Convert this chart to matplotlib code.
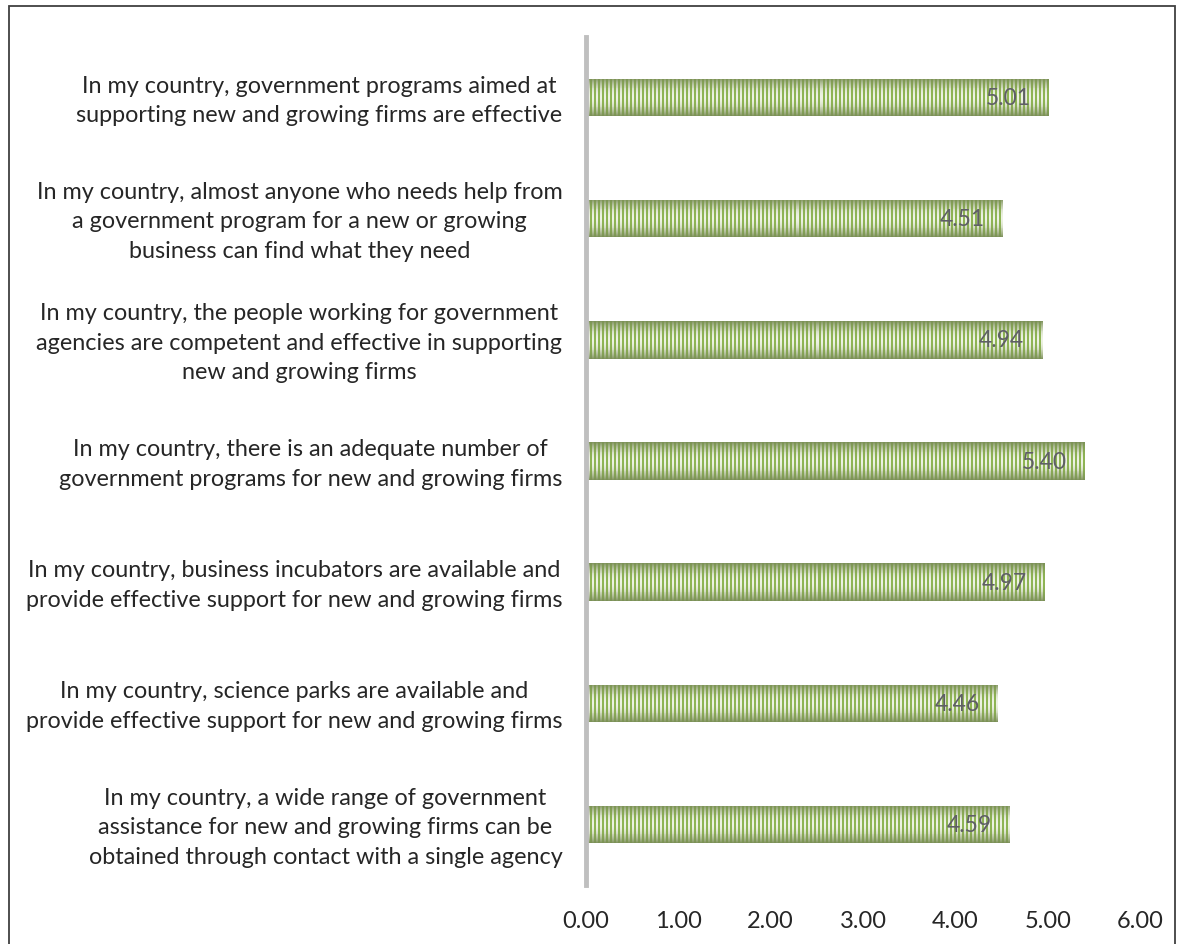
import numpy as np
import matplotlib
matplotlib.use("Agg")
import matplotlib.pyplot as plt
from matplotlib.patches import Rectangle
from matplotlib.transforms import ScaledTranslation

categories = [
    "In my country, government programs aimed at\nsupporting new and growing firms are effective",
    "In my country, almost anyone who needs help from\na government program for a new or growing\nbusiness can find what they need",
    "In my country, the people working for government\nagencies are competent and effective in supporting\nnew and growing firms",
    "In my country, there is an adequate number of\ngovernment programs for new and growing firms",
    "In my country, business incubators are available and\nprovide effective support for new and growing firms",
    "In my country, science parks are available and\nprovide effective support for new and growing firms",
    "In my country, a wide range of government\nassistance for new and growing firms can be\nobtained through contact with a single agency",
]
values = [5.01, 4.51, 4.94, 5.40, 4.97, 4.46, 4.59]
xticks = [0, 1, 2, 3, 4, 5, 6]
xticklabels = ["0.00", "1.00", "2.00", "3.00", "4.00", "5.00", "6.00"]

plt.rcParams['font.family'] = ['Lato', 'DejaVu Sans']

W, H = 1183, 945
fig = plt.figure(figsize=(W / 100, H / 100), dpi=100)
ax = fig.add_axes([586 / W, 1 - 886 / H, (1140 - 586) / W, 848 / H])

ypos = np.arange(len(values))
bars = ax.barh(ypos, values, height=0.31, color="#b5cc85", edgecolor="none", zorder=2)

# striped gradient texture clipped to each bar
green = np.array([0.56, 0.71, 0.33])
light = np.array([0.93, 0.95, 0.89])
dark = np.array([0.48, 0.56, 0.34])
stripe_w = 2.0 / 92.3
for b in bars:
    x0, y0, w, h = b.get_x(), b.get_y(), b.get_width(), b.get_height()
    nx = max(2, int(round(w / stripe_w)))
    ny = 40
    cols = np.where((np.arange(nx) % 2) == 0, 1.0, 0.0)
    t = (np.arange(ny) + 0.5) / ny
    v = np.sin(np.pi * t) ** 0.8
    stripe = cols[None, :, None] * green[None, None, :] + (1 - cols[None, :, None]) * light[None, None, :]
    img = dark[None, None, :] * (1 - v[:, None, None]) + stripe * v[:, None, None]
    im = ax.imshow(img, extent=[x0, x0 + w, y0, y0 + h], aspect="auto",
                   interpolation="nearest", zorder=3)
    im.set_clip_path(b)
    ax.annotate(f"{w:.2f}", xy=(x0 + w, y0 + h / 2), xytext=(-13, 0),
                textcoords="offset points", ha="right", va="center",
                fontsize=16.5, color="#5f5f66", zorder=4)

ax.set_xlim(0, 6)
ax.set_ylim(-0.5, 6.5)
ax.invert_yaxis()
ax.set_xticks(xticks)
ax.set_xticklabels(xticklabels, fontsize=17, color="#262626")
ax.set_yticks(ypos)
ax.set_yticklabels(categories, fontsize=16.8, color="#262626", multialignment="center",
                   linespacing=1.5)
ax.tick_params(axis="x", length=0, pad=18)
ax.tick_params(axis="y", length=0, pad=17)
shift = ScaledTranslation(0, 4 / 100, fig.dpi_scale_trans)
for lbl in ax.get_yticklabels():
    lbl.set_transform(lbl.get_transform() + shift)
for s in ["top", "right", "bottom"]:
    ax.spines[s].set_visible(False)
ax.spines["left"].set_color("#bfbfbf")
ax.spines["left"].set_linewidth(3.5)
ax.spines["left"].set_zorder(5)
ax.set_aspect("auto")

fig.patches.append(Rectangle((9 / W, -0.01), (1175 - 9) / W, 1 - 7 / H + 0.01,
                             transform=fig.transFigure, fill=False,
                             edgecolor="#404040", linewidth=1.3))

fig.savefig("out.png", dpi=100)
